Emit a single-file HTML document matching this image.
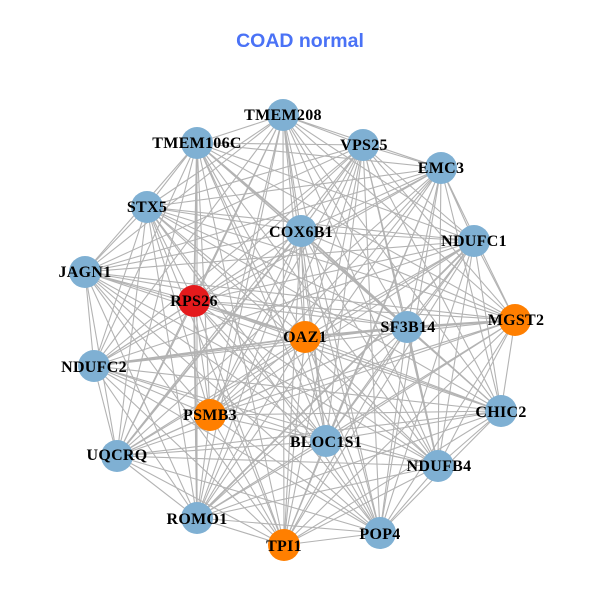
<!DOCTYPE html>
<html><head><meta charset="utf-8"><style>html,body{margin:0;padding:0;background:#fff;width:600px;height:600px;overflow:hidden}svg{display:block}
.l{font:bold 16px "Liberation Serif",serif;fill:#000;text-anchor:middle;letter-spacing:.3px}
.t{font:bold 19.5px "Liberation Sans",sans-serif;fill:#4a72f6;text-anchor:middle}
.b{fill:#7fb0d3}.o{fill:#ff7f00}.r{fill:#e41a1c}
polyline{fill:none;stroke:#b3b3b3;stroke-width:1.1}</style></head><body>
<svg width="600" height="600" viewBox="0 0 600 600" xmlns="http://www.w3.org/2000/svg">
<rect width="600" height="600" fill="#fff"/>
<text class="t" x="300" y="47">COAD normal</text>
<polyline points="283,115 197,143 283,115 363,145 283,115 441,168 283,115 147,207 283,115 301,231 283,115 474,241 283,115 85,272 283,115 194,301 283,115 515,320 283,115 305,337 283,115 407,327 283,115 94,366 283,115 210,415 283,115 501,411 283,115 326,441 283,115 117,456 283,115 438,466 283,115 197,518 283,115 380,533 283,115 284,545"/>
<polyline points="197,143 363,145 197,143 441,168 197,143 147,207 197,143 301,231 197,143 474,241 197,143 85,272 197,143 194,301 197,143 515,320 197,143 305,337 197,143 407,327 197,143 94,366 197,143 210,415 197,143 501,411 197,143 326,441 197,143 117,456 197,143 438,466 197,143 197,518 197,143 380,533 197,143 284,545"/>
<polyline points="363,145 441,168 363,145 147,207 363,145 301,231 363,145 474,241 363,145 85,272 363,145 194,301 363,145 515,320 363,145 305,337 363,145 407,327 363,145 94,366 363,145 210,415 363,145 501,411 363,145 326,441 363,145 117,456 363,145 438,466 363,145 197,518 363,145 380,533 363,145 284,545"/>
<polyline points="441,168 147,207 441,168 301,231 441,168 474,241 441,168 85,272 441,168 194,301 441,168 515,320 441,168 305,337 441,168 407,327 441,168 94,366 441,168 210,415 441,168 501,411 441,168 326,441 441,168 117,456 441,168 438,466 441,168 197,518 441,168 380,533 441,168 284,545"/>
<polyline points="147,207 301,231 147,207 474,241 147,207 85,272 147,207 194,301 147,207 515,320 147,207 305,337 147,207 407,327 147,207 94,366 147,207 210,415 147,207 501,411 147,207 326,441 147,207 117,456 147,207 438,466 147,207 197,518 147,207 380,533 147,207 284,545"/>
<polyline points="301,231 474,241 301,231 85,272 301,231 194,301 301,231 515,320 301,231 305,337 301,231 407,327 301,231 94,366 301,231 210,415 301,231 501,411 301,231 326,441 301,231 117,456 301,231 438,466 301,231 197,518 301,231 380,533 301,231 284,545"/>
<polyline points="474,241 85,272 474,241 194,301 474,241 515,320 474,241 305,337 474,241 407,327 474,241 94,366 474,241 210,415 474,241 501,411 474,241 326,441 474,241 117,456 474,241 438,466 474,241 197,518 474,241 380,533 474,241 284,545"/>
<polyline points="85,272 194,301 85,272 515,320 85,272 305,337 85,272 407,327 85,272 94,366 85,272 210,415 85,272 501,411 85,272 326,441 85,272 117,456 85,272 438,466 85,272 197,518 85,272 380,533 85,272 284,545"/>
<polyline points="194,301 515,320 194,301 305,337 194,301 407,327 194,301 94,366 194,301 210,415 194,301 501,411 194,301 326,441 194,301 117,456 194,301 438,466 194,301 197,518 194,301 380,533 194,301 284,545"/>
<polyline points="515,320 305,337 515,320 407,327 515,320 94,366 515,320 210,415 515,320 501,411 515,320 326,441 515,320 117,456 515,320 438,466 515,320 197,518 515,320 380,533 515,320 284,545"/>
<polyline points="305,337 407,327 305,337 94,366 305,337 210,415 305,337 501,411 305,337 326,441 305,337 117,456 305,337 438,466 305,337 197,518 305,337 380,533 305,337 284,545"/>
<polyline points="407,327 94,366 407,327 210,415 407,327 501,411 407,327 326,441 407,327 117,456 407,327 438,466 407,327 197,518 407,327 380,533 407,327 284,545"/>
<polyline points="94,366 210,415 94,366 501,411 94,366 326,441 94,366 117,456 94,366 438,466 94,366 197,518 94,366 380,533 94,366 284,545"/>
<polyline points="210,415 501,411 210,415 326,441 210,415 117,456 210,415 438,466 210,415 197,518 210,415 380,533 210,415 284,545"/>
<polyline points="501,411 326,441 501,411 117,456 501,411 438,466 501,411 197,518 501,411 380,533 501,411 284,545"/>
<polyline points="326,441 117,456 326,441 438,466 326,441 197,518 326,441 380,533 326,441 284,545"/>
<polyline points="117,456 438,466 117,456 197,518 117,456 380,533 117,456 284,545"/>
<polyline points="438,466 197,518 438,466 380,533 438,466 284,545"/>
<polyline points="197,518 380,533 197,518 284,545"/>
<polyline points="380,533 284,545"/>
<g style="stroke-width:1.8">
<polyline style="stroke-width:1.8" points="197,143 301,231"/>
<polyline style="stroke-width:1.8" points="301,231 407,327"/>
<polyline style="stroke-width:1.8" points="194,301 305,337"/>
<polyline style="stroke-width:1.8" points="94,366 305,337"/>
<polyline style="stroke-width:1.8" points="305,337 407,327"/>
<polyline style="stroke-width:1.8" points="407,327 515,320"/>
<polyline style="stroke-width:1.8" points="197,143 194,301"/>
<polyline style="stroke-width:1.8" points="194,301 197,518"/>
<polyline style="stroke-width:1.8" points="407,327 438,466"/>
<polyline style="stroke-width:1.8" points="197,518 474,241"/>
<polyline style="stroke-width:1.8" points="117,456 301,231"/>
</g>
<circle class="b" cx="283" cy="115" r="16"/>
<circle class="b" cx="197" cy="143" r="16"/>
<circle class="b" cx="363" cy="145" r="16"/>
<circle class="b" cx="441" cy="168" r="16"/>
<circle class="b" cx="147" cy="207" r="16"/>
<circle class="b" cx="301" cy="231" r="16"/>
<circle class="b" cx="474" cy="241" r="16"/>
<circle class="b" cx="85" cy="272" r="16"/>
<circle class="r" cx="194" cy="301" r="16"/>
<circle class="o" cx="515" cy="320" r="16"/>
<circle class="o" cx="305" cy="337" r="16"/>
<circle class="b" cx="407" cy="327" r="16"/>
<circle class="b" cx="94" cy="366" r="16"/>
<circle class="o" cx="210" cy="415" r="16"/>
<circle class="b" cx="501" cy="411" r="16"/>
<circle class="b" cx="326" cy="441" r="16"/>
<circle class="b" cx="117" cy="456" r="16"/>
<circle class="b" cx="438" cy="466" r="16"/>
<circle class="b" cx="197" cy="518" r="16"/>
<circle class="b" cx="380" cy="533" r="16"/>
<circle class="o" cx="284" cy="545" r="16"/>
<text class="l" x="283" y="120">TMEM208</text>
<text class="l" x="197" y="148">TMEM106C</text>
<text class="l" x="364" y="150">VPS25</text>
<text class="l" x="441" y="173">EMC3</text>
<text class="l" x="147" y="212">STX5</text>
<text class="l" x="301" y="237">COX6B1</text>
<text class="l" x="474" y="246">NDUFC1</text>
<text class="l" x="85" y="277">JAGN1</text>
<text class="l" x="194" y="306">RPS26</text>
<text class="l" x="516" y="325">MGST2</text>
<text class="l" x="305" y="342">OAZ1</text>
<text class="l" x="408" y="332">SF3B14</text>
<text class="l" x="94" y="372">NDUFC2</text>
<text class="l" x="210" y="420">PSMB3</text>
<text class="l" x="501" y="417">CHIC2</text>
<text class="l" x="326" y="447">BLOC1S1</text>
<text class="l" x="117" y="460">UQCRQ</text>
<text class="l" x="439" y="471">NDUFB4</text>
<text class="l" x="197" y="524">ROMO1</text>
<text class="l" x="380" y="539">POP4</text>
<text class="l" x="284" y="551">TPI1</text>
</svg>
</body></html>
